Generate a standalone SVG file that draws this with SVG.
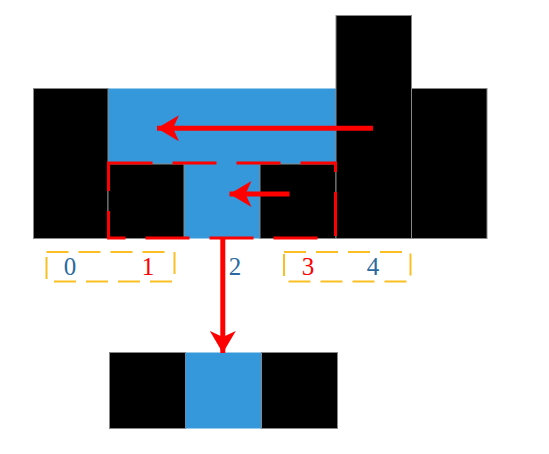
<svg xmlns="http://www.w3.org/2000/svg" width="549" height="454" viewBox="0 0 549 454">
<style>
.blk{fill:#000;stroke:#888;stroke-width:1}
.blu{fill:#3498db}
.arr{stroke:#ff0000;stroke-width:5;fill:none}
.sel{fill:none;stroke:#ff0000;stroke-width:3;stroke-dasharray:44 20}
.grp{fill:none;stroke:#fbbf24;stroke-width:2;stroke-dasharray:22 10}
.lbl{font-family:"Liberation Serif","Times New Roman",serif;font-size:25px;text-anchor:middle}
.lb{fill:#2a6aa0}
.lr{fill:#ff0000}
</style>
<defs>
<marker id="ah" markerUnits="userSpaceOnUse" markerWidth="24" markerHeight="26" refX="22" refY="13" orient="auto">
<path d="M0,0 L22,13 L0,26 L6,13 Z" fill="#ff0000"/>
</marker>
</defs>
<g id="blue-bg"><rect class="blu" x="108" y="88.5" width="228" height="150"/></g>
<g id="bar0"><rect class="blk" x="33.5" y="88.5" width="74.5" height="150"/></g>
<g id="bar1"><rect class="blk" x="108" y="164" width="76" height="74.5"/></g>
<g id="bar3"><rect class="blk" x="260" y="164" width="76" height="74.5"/></g>
<g id="bar4"><rect class="blk" x="336" y="15.5" width="75.5" height="223"/></g>
<g id="bar5"><rect class="blk" x="411.5" y="88.5" width="75.5" height="150"/></g>
<g id="result">
<rect class="blk" x="109.5" y="352.5" width="76" height="76"/>
<rect class="blu" x="185.5" y="352.5" width="76" height="76"/>
<rect class="blk" x="261.5" y="352.5" width="76" height="76"/>
</g>
<g id="selection"><rect class="sel" x="108.5" y="163" width="227" height="75"/></g>
<g id="groups">
<rect class="grp" x="46.5" y="252" width="128" height="29.5"/>
<rect class="grp" x="284" y="252" width="126.5" height="29.5"/>
</g>
<g id="labels">
<text class="lbl lb" x="70" y="275">0</text>
<text class="lbl lr" x="148" y="275">1</text>
<text class="lbl lb" x="235" y="275">2</text>
<text class="lbl lr" x="308" y="275">3</text>
<text class="lbl lb" x="373" y="275">4</text>
</g>
<g id="connectors">
<line class="arr" x1="373" y1="128.3" x2="157" y2="128.3" marker-end="url(#ah)"/>
<line class="arr" x1="289.5" y1="194" x2="229.5" y2="194" marker-end="url(#ah)"/>
<line class="arr" x1="222.8" y1="238" x2="222.8" y2="353" marker-end="url(#ah)"/>
</g>
</svg>
